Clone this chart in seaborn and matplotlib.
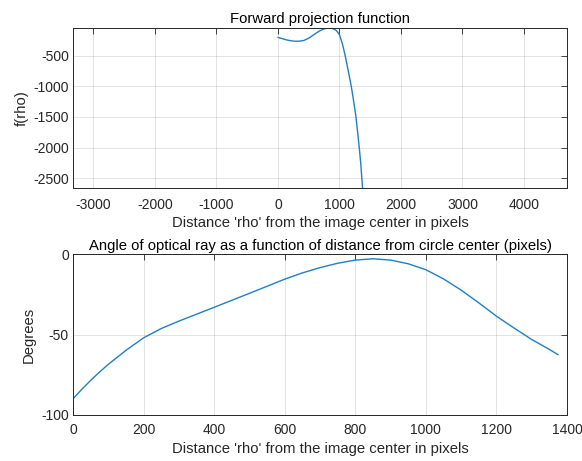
import matplotlib
matplotlib.use("Agg")
import matplotlib.pyplot as plt
import seaborn as sns
import pandas as pd

# Forward projection function (top panel)
rho_f = [0, 60, 150, 240, 300, 360, 420, 500, 574, 630, 683, 740, 790, 820, 860, 900,
         950, 1000, 1050, 1093, 1140, 1192, 1225, 1252, 1268, 1295, 1322, 1345, 1362, 1376]
f_vals = [-205, -222, -248, -264, -268, -265, -255, -218, -168, -128, -96, -70, -56, -52, -54, -65,
          -92, -160, -315, -500, -735, -1000, -1205, -1385, -1500, -1740, -2000, -2240, -2470, -2657]

# Angle of optical ray (bottom panel)
rho_a = [0, 25, 50, 75, 100, 150, 200, 250, 300, 400, 500, 600, 650, 700, 750, 800, 850, 900, 950,
         1000, 1050, 1100, 1150, 1200, 1250, 1300, 1350, 1375]
deg_vals = [-90, -84, -78.5, -73.3, -68.5, -59.8, -52, -46.2, -41.6, -33, -24.3, -15.5, -11.6, -8.3, -5.6, -3.6, -2.8,
            -3.6, -5.9, -9.6, -15.3, -22.3, -30.2, -38.5, -45.9, -53.0, -59.2, -62.5]

top_xticks = [-3000, -2000, -1000, 0, 1000, 2000, 3000, 4000]
top_yticks = [-2500, -2000, -1500, -1000, -500]
bot_xticks = [0, 200, 400, 600, 800, 1000, 1200, 1400]
bot_yticks = [-100, -50, 0]

df_top = pd.DataFrame({"rho": rho_f, "f": f_vals})
df_bot = pd.DataFrame({"rho": rho_a, "deg": deg_vals})

sns.set_style("white")
plt.rcParams["font.family"] = ["Liberation Sans", "DejaVu Sans"]
plt.rcParams["axes.unicode_minus"] = False

ink = "#262626"
line_c = "#1f7fc4"
fs_lab = 10.7
fs_tick = 10

fig = plt.figure(figsize=(5.82, 4.61), dpi=100)
ax1 = fig.add_axes([0.1254, 0.5922, 0.8488, 0.347])
ax2 = fig.add_axes([0.1254, 0.0998, 0.8488, 0.3486])

sns.lineplot(data=df_top, x="rho", y="f", ax=ax1, color=line_c, linewidth=1.0)
sns.lineplot(data=df_bot, x="rho", y="deg", ax=ax2, color=line_c, linewidth=1.0)

ax1.set_xlim(-3333, 4700)
ax1.set_ylim(-2657, -52)
ax1.set_xticks(top_xticks)
ax1.set_yticks(top_yticks)
ax1.set_title("Forward projection function", fontsize=fs_lab, color="black", pad=3.5)
ax1.set_xlabel("Distance 'rho' from the image center in pixels", fontsize=fs_lab, color=ink, labelpad=3)
ax1.set_ylabel("f(rho)", fontsize=fs_lab, color=ink, labelpad=3)

ax2.set_xlim(0, 1400)
ax2.set_ylim(-100, 0)
ax2.set_xticks(bot_xticks)
ax2.set_yticks(bot_yticks)
ax2.set_title("Angle of optical ray as a function of distance from circle center (pixels)",
              fontsize=fs_lab, color="black", pad=3)
ax2.set_xlabel("Distance 'rho' from the image center in pixels", fontsize=fs_lab, color=ink, labelpad=4)
ax2.set_ylabel("Degrees", fontsize=fs_lab, color=ink, labelpad=4)

for ax in (ax1, ax2):
    ax.grid(True, color="#262626", alpha=0.15, linewidth=0.6)
    ax.tick_params(direction="in", length=4, width=0.6, top=True, right=True,
                   labelsize=fs_tick, colors=ink)
    ax.tick_params(axis="y", pad=3)
    for s in ax.spines.values():
        s.set_color(ink)
        s.set_linewidth(0.7)
        s.set_visible(True)
    ax.set_axisbelow(True)
ax1.tick_params(axis="x", pad=7)
ax2.tick_params(axis="x", pad=5.5)

fig.savefig("out.png", dpi=100)
